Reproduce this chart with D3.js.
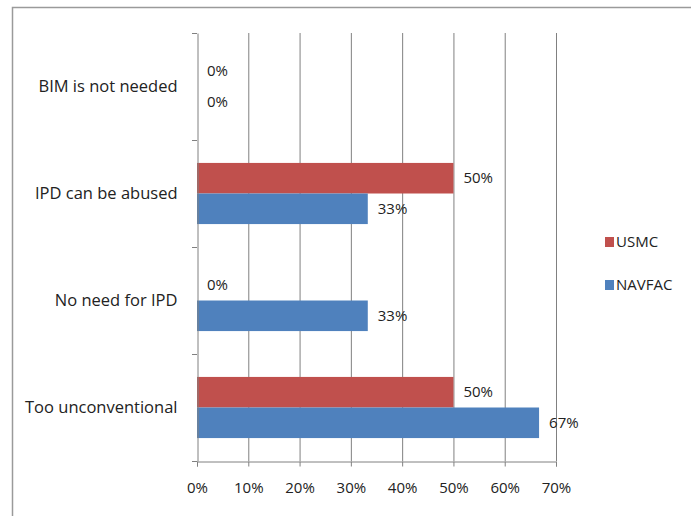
<!DOCTYPE html>
<html><head><meta charset="utf-8">
<script src="https://cdn.jsdelivr.net/npm/d3@7"></script>
<style>body{margin:0;background:#fff}svg{display:block}text{font-family:"Open Sans","DejaVu Sans",sans-serif;fill:#222}</style>
</head><body>
<svg id="c" width="691" height="516"></svg>
<script>
const categories = ["BIM is not needed","IPD can be abused","No need for IPD","Too unconventional"];
const seriesNames = ["USMC","NAVFAC"];
const usmc = [0, 50, 0, 50];
const navfac = [0, 33.3, 33.3, 66.7];
const xTicks = [0,10,20,30,40,50,60,70];
const colors = ["#C0504D","#4F81BD"];

const svg = d3.select("#c");
svg.append("rect").attr("x",12.5).attr("y",7.5).attr("width",700).attr("height",520)
  .attr("fill","none").attr("stroke","#9a9a9a").attr("stroke-width",1.5);

const x = d3.scaleLinear().domain([0,70]).range([197,556]);
const y = d3.scaleBand().domain(categories).range([33,461]);
const inner = d3.scaleBand().domain(seriesNames).range([0,y.bandwidth()]).paddingInner(0).paddingOuter(0.75);

svg.append("g").selectAll("line").data(xTicks.slice(1)).join("line")
  .attr("x1",d=>x(d)+0.5).attr("x2",d=>x(d)+0.5).attr("y1",33).attr("y2",461)
  .attr("stroke","#808080").attr("stroke-width",1);

const data = categories.map((c,i)=>({c, vals:[usmc[i],navfac[i]]}));
const g = svg.append("g");
data.forEach(d=>{
  d.vals.forEach((v,j)=>{
    const yy = y(d.c)+inner(seriesNames[j]);
    g.append("rect").attr("x",x(0)).attr("y",yy).attr("width",x(v)-x(0)).attr("height",inner.bandwidth())
      .attr("fill",colors[j]);
    g.append("text").attr("x",x(v)+10).attr("y",yy+inner.bandwidth()/2)
      .attr("dy","0.35em").attr("font-size",15).text(Math.round(v)+"%");
  });
});

const ya = svg.append("g").attr("transform","translate(197.5,0)")
  .call(d3.axisLeft(y).tickSize(0).tickPadding(20));
ya.select(".domain").attr("stroke","#808080");
ya.selectAll("text").attr("font-size",16.5).attr("font-family","'Open Sans',sans-serif").attr("fill","#222");
svg.append("g").selectAll("line").data(y.domain().map(d=>y(d)).concat([y.range()[1]])).join("line")
  .attr("x1",192).attr("x2",197).attr("y1",d=>d+0.5).attr("y2",d=>d+0.5).attr("stroke","#808080");

const xa = svg.append("g").attr("transform","translate(0,461.5)")
  .call(d3.axisBottom(x).tickValues(xTicks).tickFormat(d=>d+"%").tickSize(5).tickPadding(16));
xa.select(".domain").attr("stroke","#808080");
xa.selectAll("line").attr("stroke","#808080");
xa.selectAll("text").attr("font-size",15).attr("font-family","'Open Sans',sans-serif").attr("fill","#222");

const leg = svg.append("g");
seriesNames.forEach((s,i)=>{
  const cy = 242 + i*43;
  leg.append("rect").attr("x",605).attr("y",cy-5).attr("width",9).attr("height",10).attr("fill",colors[i]);
  leg.append("text").attr("x",616).attr("y",cy).attr("dy","0.35em").attr("font-size",15).text(s);
});
</script>
</body></html>
